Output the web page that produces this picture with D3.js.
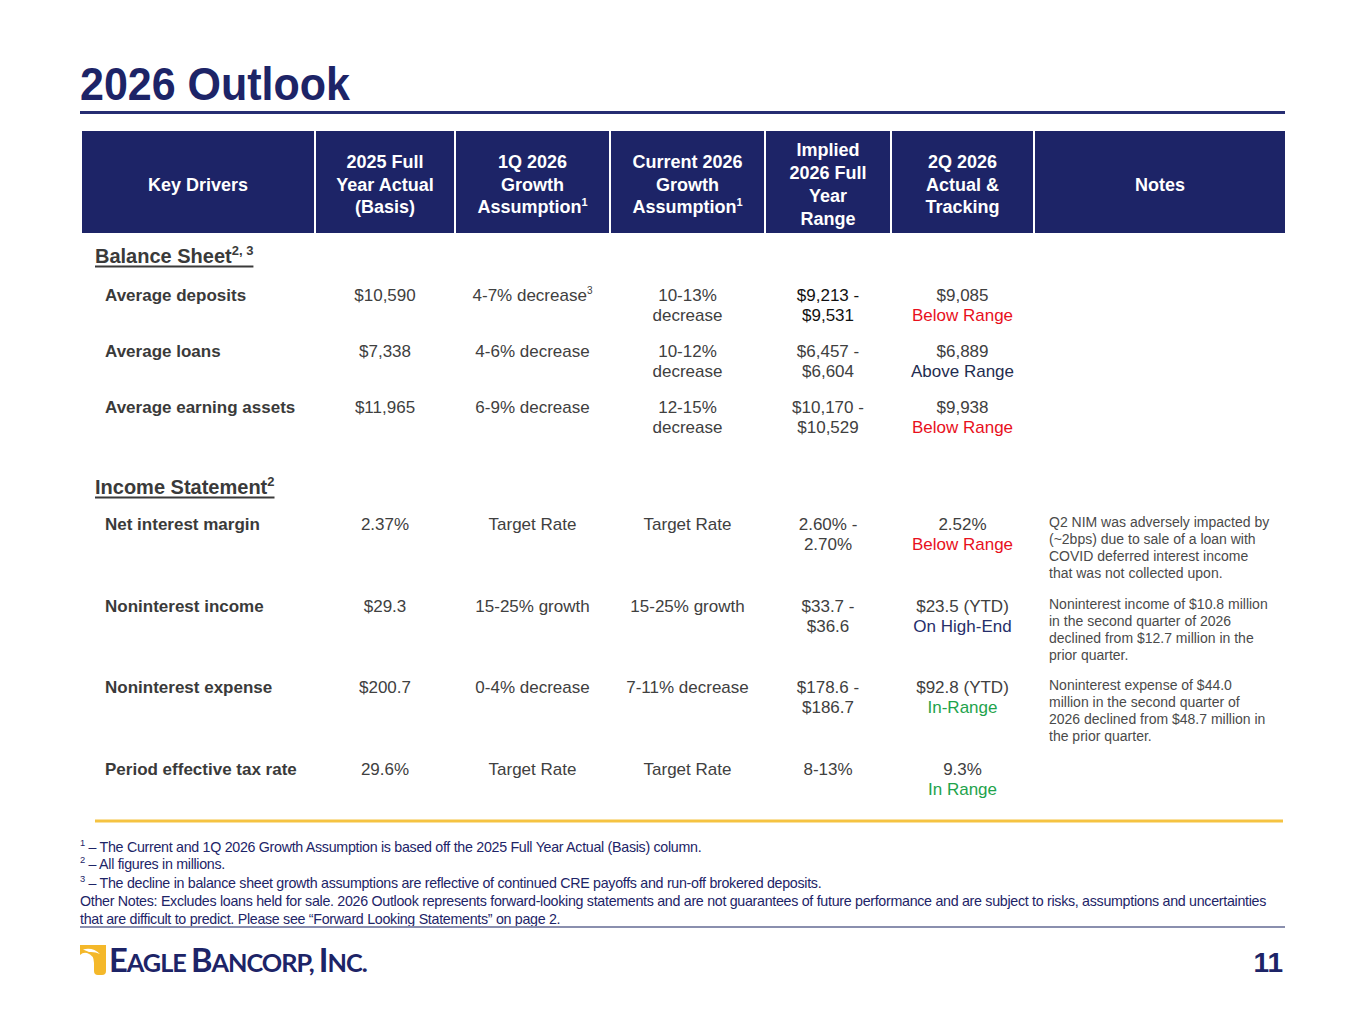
<!DOCTYPE html>
<html>
<head>
<meta charset="utf-8">
<script src="https://cdn.jsdelivr.net/npm/d3@7"></script>
<style>
  body { margin: 0; background: #fff; }
  svg { display: block; font-family: "Liberation Sans", Arial, sans-serif; }
</style>
</head>
<body>
<div id="chart-area"></div>
<script>
// ---- data ----
const headers = [
  "Key Drivers",
  "2025 Full|Year Actual|(Basis)",
  "1Q 2026|Growth|Assumption{1}",
  "Current 2026|Growth|Assumption{1}",
  "Implied|2026 Full|Year|Range",
  "2Q 2026|Actual &|Tracking",
  "Notes"
]
const sections = ["Balance Sheet{2, 3}", "Income Statement{2}"]
const rowSection = [0, 0, 0, 1, 1, 1, 1]
const drivers = ["Average deposits", "Average loans", "Average earning assets",
  "Net interest margin", "Noninterest income", "Noninterest expense", "Period effective tax rate"]
const basis2025 = ["$10,590", "$7,338", "$11,965", "2.37%", "$29.3", "$200.7", "29.6%"]
const q1Growth = ["4-7% decrease{3}", "4-6% decrease", "6-9% decrease", "Target Rate",
  "15-25% growth", "0-4% decrease", "Target Rate"]
const currentGrowth = ["10-13%|decrease", "10-12%|decrease", "12-15%|decrease", "Target Rate",
  "15-25% growth", "7-11% decrease", "Target Rate"]
const impliedRange = ["$9,213 -|$9,531", "$6,457 -|$6,604", "$10,170 -|$10,529", "2.60% -|2.70%",
  "$33.7 -|$36.6", "$178.6 -|$186.7", "8-13%"]
const q2Actual = ["$9,085", "$6,889", "$9,938", "2.52%", "$23.5 (YTD)", "$92.8 (YTD)", "9.3%"]
const q2Status = ["Below Range", "Above Range", "Below Range", "Below Range", "On High-End", "In-Range", "In Range"]
const notes = ["", "", "",
  "Q2 NIM was adversely impacted by|(~2bps) due to sale of a loan with|COVID deferred interest income|that was not collected upon.",
  "Noninterest income of $10.8 million|in the second quarter of 2026|declined from $12.7 million in the|prior quarter.",
  "Noninterest expense of $44.0|million in the second quarter of|2026 declined from $48.7 million in|the prior quarter.",
  ""]
const footnotes = [
  "{1} – The Current and 1Q 2026 Growth Assumption is based off the 2025 Full Year Actual (Basis) column.",
  "{2} – All figures in millions.",
  "{3} – The decline in balance sheet  growth assumptions are reflective of continued CRE payoffs and run-off brokered deposits.",
  "Other Notes: Excludes loans held for sale. 2026 Outlook represents forward-looking statements and are not guarantees of future performance and are subject to risks, assumptions and uncertainties",
  "that are difficult to predict. Please see “Forward Looking Statements” on page 2."
]
const company = [["E", "big"], ["AGLE ", "small"], ["B", "big"], ["ANCORP, ", "small"], ["I", "big"], ["NC.", "small"]]
const pageNumber = "11"

// ---- styles ----
const NAVY = "#1d2467"
const GREY = "#404040"
const statusColor = {
  "Below Range": "#e8101c",
  "Above Range": "#1f2d50",
  "On High-End": "#262e6a",
  "In-Range": "#1ea34c",
  "In Range": "#1ea34c"
}

const WIDTH = 1365
const HEIGHT = 1024

const svg = d3.select("#chart-area").append("svg")
  .attr("width", WIDTH)
  .attr("height", HEIGHT)

// column layout
const colEdges = [82, 316, 456, 611, 766, 892, 1035, 1287]
const colCenter = i => (colEdges[i] + colEdges[i + 1] - 2) / 2

// writes "text{sup}" strings into a text element as tspans
function rich(textSel, str, size, supSize) {
  const parts = str.split(/(\{[^}]*\})/).filter(p => p !== "")
  let shift = 0
  parts.forEach(p => {
    if (p.startsWith("{")) {
      const up = -size * 0.4
      textSel.append("tspan").attr("font-size", supSize).attr("dy", up - shift).text(p.slice(1, -1))
      shift = up
    } else {
      textSel.append("tspan").attr("font-size", size).attr("dy", -shift).text(p)
      shift = 0
    }
  })
}

// multi-line block, lines split by "|"
function block(g, str, x, y, lineH, size, supSize, anchor) {
  str.split("|").forEach((line, k) => {
    const t = g.append("text")
      .attr("x", x)
      .attr("y", y + k * lineH)
      .attr("text-anchor", anchor)
      .attr("font-size", size)
    rich(t, line, size, supSize)
  })
}

// ---- title ----
svg.append("text")
  .attr("x", 80).attr("y", 100)
  .attr("font-size", 47).attr("font-weight", "bold")
  .attr("fill", NAVY)
  .attr("textLength", 270).attr("lengthAdjust", "spacingAndGlyphs")
  .text("2026 Outlook")

svg.append("rect")
  .attr("x", 80).attr("y", 111).attr("width", 1205).attr("height", 3)
  .attr("fill", "#262d72")

// ---- header row ----
const HEAD_TOP = 131, HEAD_H = 102
const head = svg.append("g").attr("class", "header")

head.selectAll("rect")
  .data(headers)
  .enter().append("rect")
  .attr("x", (d, i) => colEdges[i])
  .attr("y", HEAD_TOP)
  .attr("width", (d, i) => colEdges[i + 1] - colEdges[i] - 2)
  .attr("height", HEAD_H)
  .attr("fill", NAVY)

headers.forEach((h, i) => {
  const n = h.split("|").length
  const lineH = 22.7
  const y0 = HEAD_TOP + HEAD_H / 2 + 2 - (n - 1) * lineH / 2 + 6.5
  const g = head.append("g").attr("fill", "#fff").attr("font-weight", "bold")
  block(g, h, colCenter(i), y0, lineH, 18, 11, "middle")
})

// ---- body ----
const body = svg.append("g").attr("fill", GREY)
const sectionY = [263, 494]
const rowStart = [301, 530]
const rowStep = [56, 81.7]

sections.forEach((s, i) => {
  const t = body.append("text")
    .attr("x", 95).attr("y", sectionY[i])
    .attr("font-weight", "bold")
    .attr("fill", "#3a3a3a")
  rich(t, s, 20, 13)
  const w = t.node().getComputedTextLength()
  body.append("rect")
    .attr("x", 95).attr("y", sectionY[i] + 2.5)
    .attr("width", w).attr("height", 2)
    .attr("fill", "#3a3a3a")
})

const rowIndexInSection = drivers.map((d, i) => rowSection.slice(0, i).filter(s => s === rowSection[i]).length)
const rowY = i => rowStart[rowSection[i]] + rowIndexInSection[i] * rowStep[rowSection[i]]

const LINE_H = 20
drivers.forEach((d, i) => {
  const y = rowY(i)
  const g = body.append("g")

  g.append("text")
    .attr("x", 105).attr("y", y)
    .attr("font-size", 17).attr("font-weight", "bold")
    .attr("fill", "#3a3a3a")
    .text(d)

  block(g, basis2025[i], colCenter(1), y, LINE_H, 17, 10, "middle")
  block(g, q1Growth[i], colCenter(2), y, LINE_H, 17, 10, "middle")
  block(g, currentGrowth[i], colCenter(3), y, LINE_H, 17, 10, "middle")

  const ig = g.append("g").attr("fill", i === 0 ? "#111" : GREY)
  block(ig, impliedRange[i], colCenter(4), y, LINE_H, 17, 10, "middle")

  block(g, q2Actual[i], colCenter(5), y, LINE_H, 17, 10, "middle")
  g.append("text")
    .attr("x", colCenter(5)).attr("y", y + LINE_H)
    .attr("text-anchor", "middle")
    .attr("font-size", 17)
    .attr("fill", statusColor[q2Status[i]])
    .text(q2Status[i])

  if (notes[i]) {
    const ng = g.append("g").attr("fill", "#4a4a4a")
    block(ng, notes[i], 1049, y - 3, 17, 14, 9, "start")
  }
})

// yellow divider
svg.append("rect")
  .attr("x", 95).attr("y", 819.5).attr("width", 1188).attr("height", 3)
  .attr("fill", "#f5c342")

// ---- footnotes ----
const foot = svg.append("g").attr("fill", NAVY)
const footY = [852, 869, 888, 906, 924]
const footText = footnotes.map((f, i) => {
  const t = foot.append("text")
    .attr("x", 80).attr("y", footY[i])
    .attr("letter-spacing", -0.3)
  rich(t, f, 14.5, 9.5)
  return t
})
// condense the footnote lines the same way (longest line ends near 1266)
const squeeze = 1186 / footText[3].node().getComputedTextLength()
footText.forEach(t => {
  const w = t.node().getComputedTextLength()
  t.attr("textLength", w * squeeze).attr("lengthAdjust", "spacingAndGlyphs")
})

svg.append("rect")
  .attr("x", 80).attr("y", 926).attr("width", 1205).attr("height", 2)
  .attr("fill", "#8a8fae")

// ---- logo ----
const logo = svg.append("g")
logo.append("path")
  .attr("d", "M80,945 H106 V971 Q106,975 102,975 H98 Q94,975 94,971 V963 Q94,955 87,953 Q83,952 80,955 Z")
  .attr("fill", "#f4b82a")
logo.append("path")
  .attr("d", "M83,949.5 Q93,947 100,954 Q95,951.5 89,952 Z")
  .attr("fill", "#fff")

const logoText = logo.append("text")
  .attr("x", 109).attr("y", 972)
  .attr("fill", NAVY)
  .attr("font-family", "Lato, 'Liberation Sans', sans-serif")
  .attr("font-weight", "bold")
  .attr("letter-spacing", -1)
const sizes = { big: 33, small: 25.5 }
const logoSpans = logoText.selectAll("tspan")
  .data(company)
  .enter().append("tspan")
  .attr("font-size", d => sizes[d[1]])
  .text(d => d[0])
// fit the wordmark to its width on the slide by scaling font sizes
const natural = logoText.node().getComputedTextLength()
const fit = 258 / natural
logoSpans.attr("font-size", d => sizes[d[1]] * fit)

// page number
svg.append("text")
  .attr("x", 1283).attr("y", 972)
  .attr("text-anchor", "end")
  .attr("font-size", 28).attr("font-weight", "bold")
  .attr("fill", NAVY)
  .text(pageNumber)
</script>
</body>
</html>
